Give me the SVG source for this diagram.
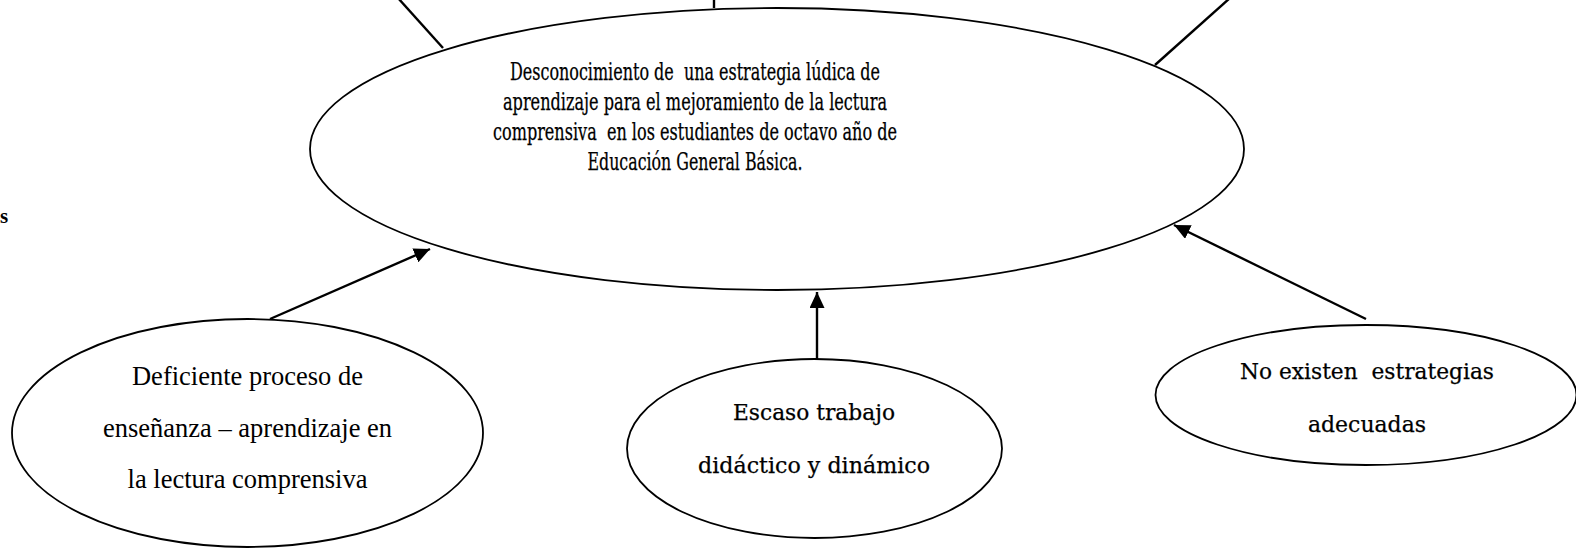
<svg xmlns="http://www.w3.org/2000/svg" width="1576" height="548" viewBox="0 0 1576 548">
<style>
.node{fill:#fff;stroke:#000;stroke-width:1.8}
.conn{stroke:#000;stroke-width:2.4;fill:none}
.cam{font-family:"DejaVu Serif Condensed","DejaVu Serif","Liberation Serif",serif;fill:#000;stroke:#000;stroke-width:0.25;text-anchor:middle;white-space:pre}
.cam2{font-family:"DejaVu Serif","Liberation Serif",serif;fill:#000;stroke:#000;stroke-width:0.25;text-anchor:middle;white-space:pre}
.tms{font-family:"Liberation Serif","Times New Roman",serif;font-size:26.5px;fill:#000;text-anchor:middle;white-space:pre}
</style>
<defs>
<marker id="arr" viewBox="0 0 16 15" refX="16" refY="7.5" markerWidth="16" markerHeight="15" orient="auto" markerUnits="userSpaceOnUse">
<path d="M0,0 L16,7.5 L0,15 z" fill="#000"/>
</marker>
</defs>
<rect width="1576" height="548" fill="#fff"/>
<text x="0" y="223" style="font-family:'Liberation Serif',serif;font-weight:bold;font-size:21px">s</text>
<g id="connectors">
<line class="conn" x1="398" y1="-2" x2="443" y2="48"/>
<line class="conn" x1="714" y1="-1" x2="714" y2="8" stroke-width="1.6"/>
<line class="conn" x1="1230" y1="-2" x2="1155" y2="65"/>
<line class="conn" x1="270" y1="319" x2="430" y2="249" marker-end="url(#arr)"/>
<line class="conn" x1="817" y1="359" x2="817" y2="292" marker-end="url(#arr)"/>
<line class="conn" x1="1366" y1="319" x2="1174" y2="225" marker-end="url(#arr)"/>
</g>
<g id="main">
<ellipse class="node" cx="777" cy="149" rx="467" ry="141" style="fill:none"/>
<text class="cam" font-size="23.5" x="695" y="80" textLength="370" lengthAdjust="spacingAndGlyphs">Desconocimiento de  una estrategia lúdica de</text>
<text class="cam" font-size="23.5" x="695" y="110" textLength="384" lengthAdjust="spacingAndGlyphs">aprendizaje para el mejoramiento de la lectura</text>
<text class="cam" font-size="23.5" x="695" y="140" textLength="404" lengthAdjust="spacingAndGlyphs">comprensiva  en los estudiantes de octavo año de</text>
<text class="cam" font-size="23.5" x="695" y="170" textLength="215" lengthAdjust="spacingAndGlyphs">Educación General Básica.</text>
</g>
<g id="cause-left">
<ellipse class="node" cx="247.5" cy="433" rx="235.5" ry="114"/>
<text class="tms" x="247.5" y="385">Deficiente proceso de</text>
<text class="tms" x="247.5" y="437">enseñanza – aprendizaje en</text>
<text class="tms" x="247.5" y="488">la lectura comprensiva</text>
</g>
<g id="cause-middle">
<ellipse class="node" cx="814.5" cy="448.5" rx="187.5" ry="89.5"/>
<text class="cam2" font-size="22" x="814" y="420" textLength="162" lengthAdjust="spacingAndGlyphs">Escaso trabajo</text>
<text class="cam2" font-size="22" x="814" y="473" textLength="232" lengthAdjust="spacingAndGlyphs">didáctico y dinámico</text>
</g>
<g id="cause-right">
<ellipse class="node" cx="1366" cy="395" rx="210.5" ry="70"/>
<text class="cam2" font-size="23" x="1367" y="379" textLength="254" lengthAdjust="spacingAndGlyphs">No existen  estrategias</text>
<text class="cam2" font-size="23" x="1367" y="432" textLength="118" lengthAdjust="spacingAndGlyphs">adecuadas</text>
</g>
</svg>
